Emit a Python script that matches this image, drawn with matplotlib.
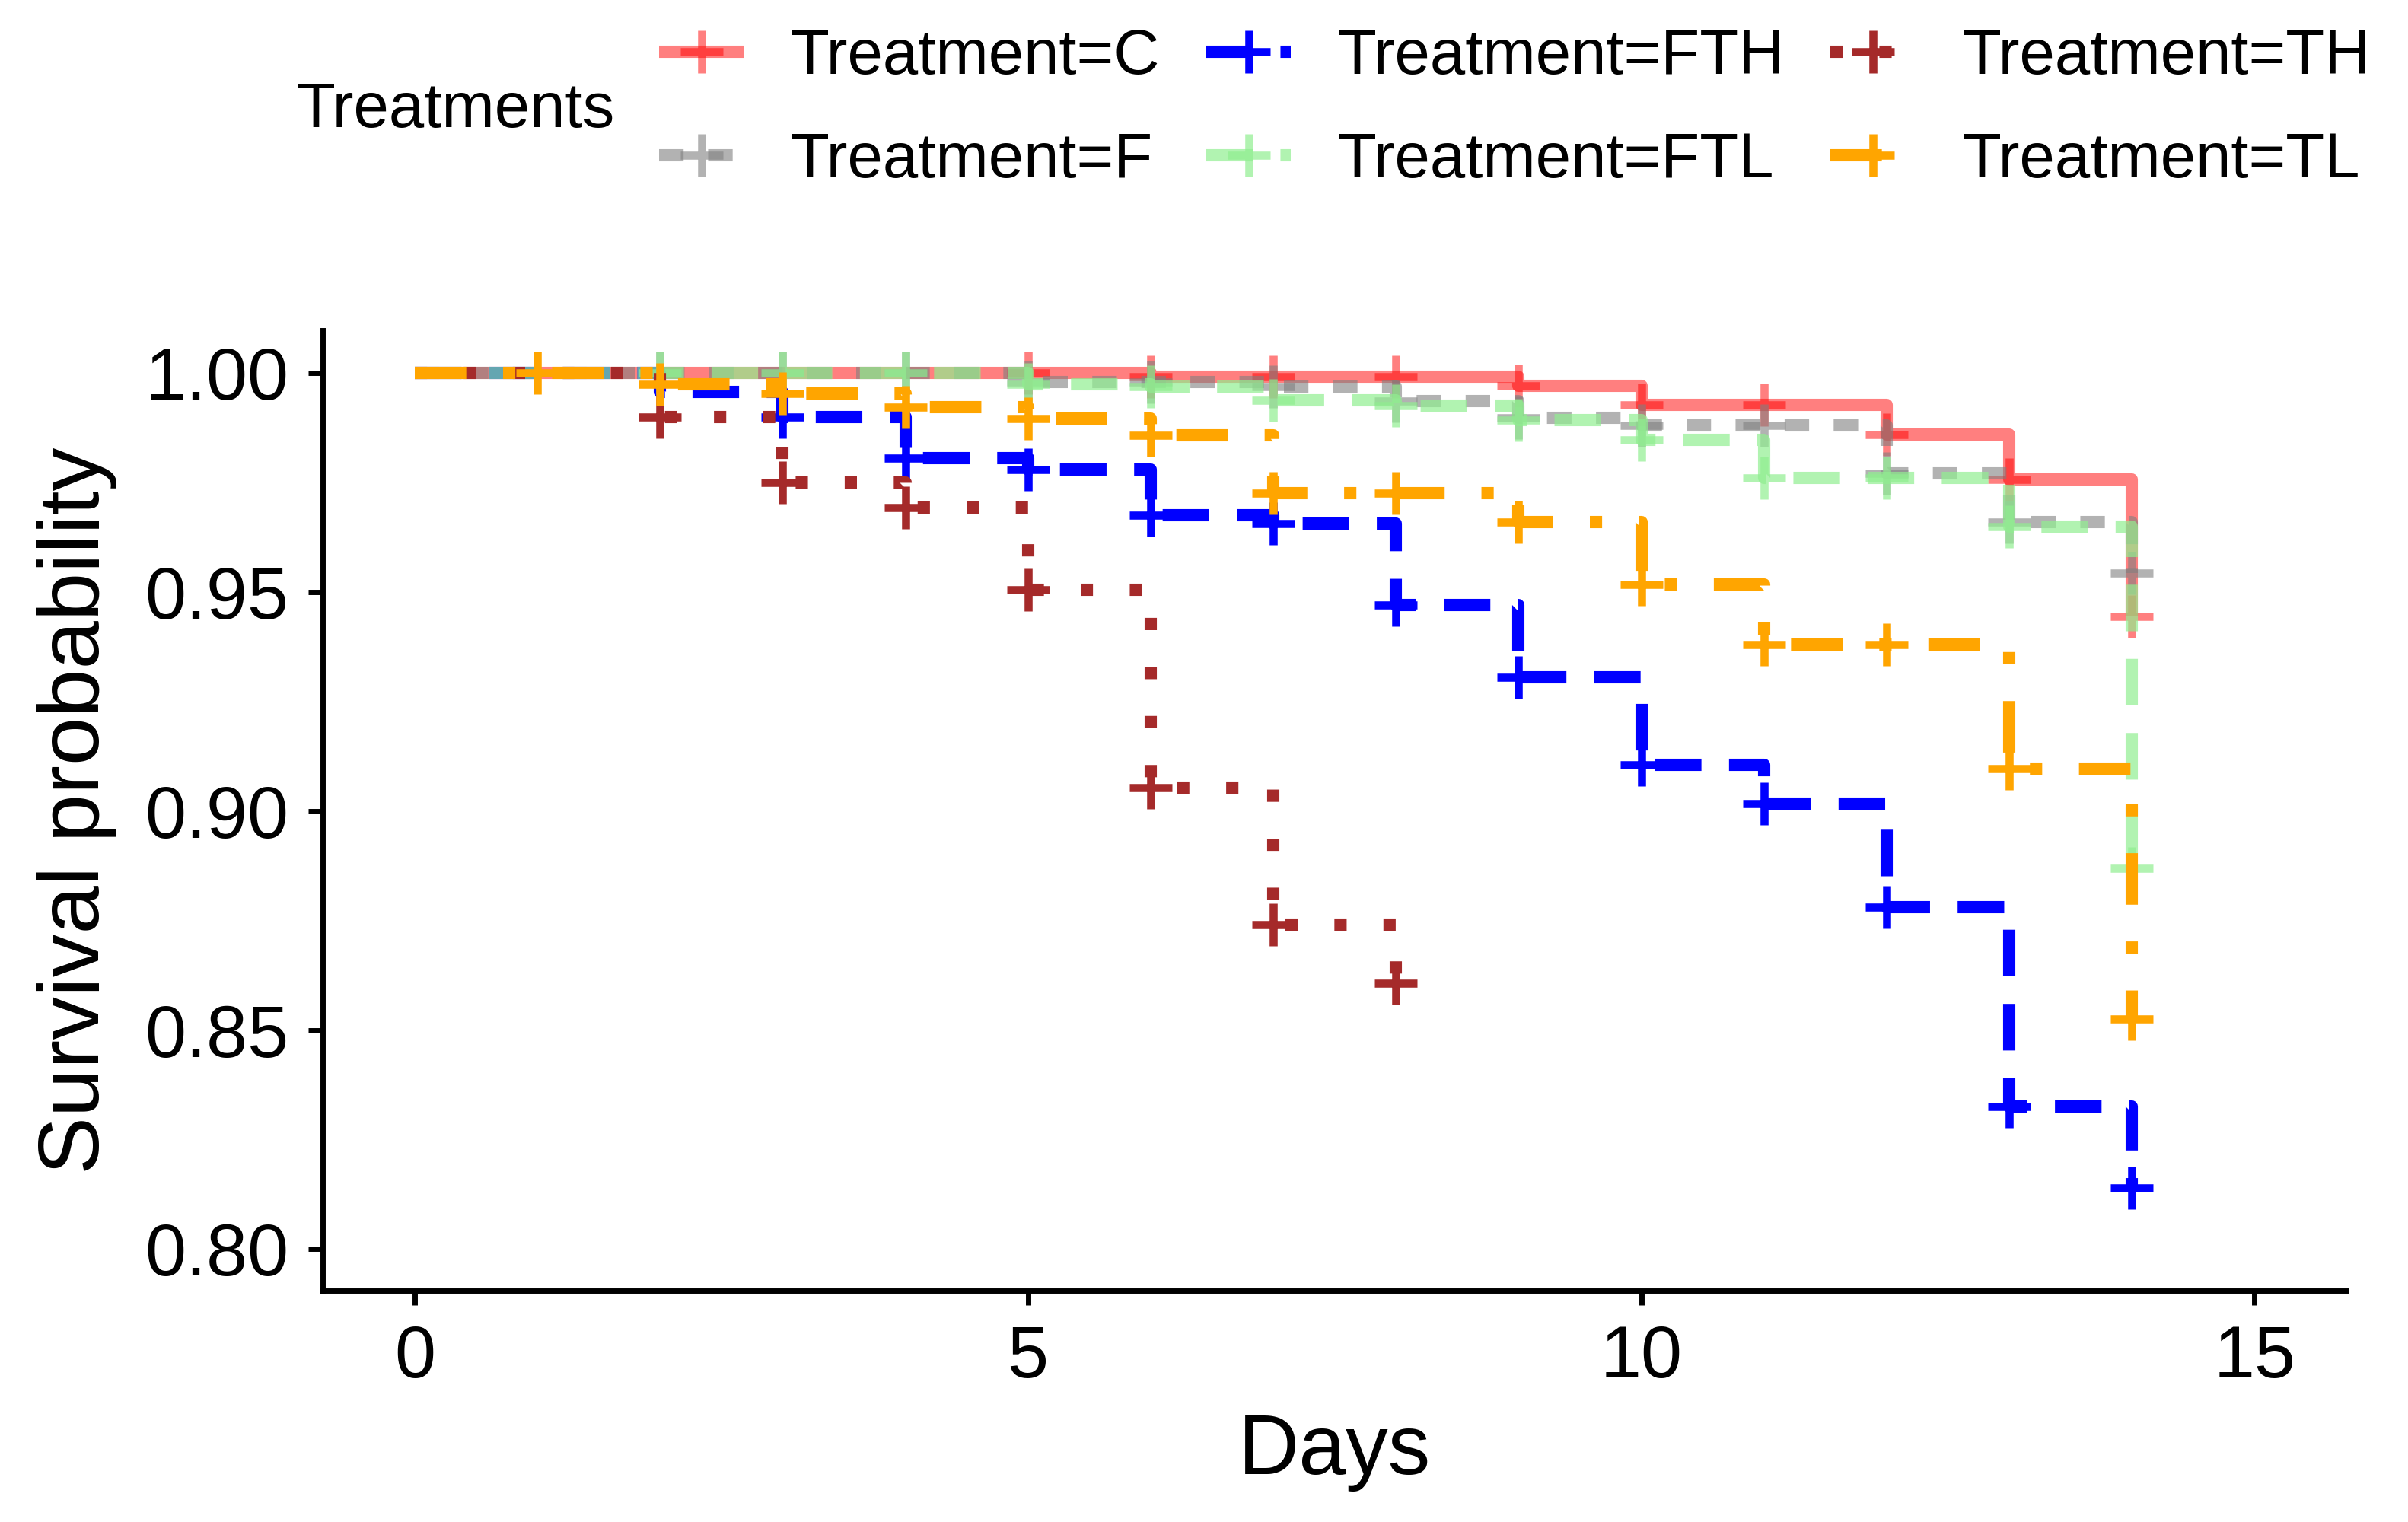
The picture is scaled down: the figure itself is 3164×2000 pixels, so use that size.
import numpy as np
import matplotlib.pyplot as plt
from matplotlib.lines import Line2D

plt.rcParams['font.family'] = ['Liberation Sans', 'DejaVu Sans']

# survival (value after the drop on that day)
days = list(range(15))
surv_c = [1.0, 1.0, 1.0, 1.0, 1.0, 1.0, 0.9992, 0.9992, 0.9992, 0.9972, 0.9928, 0.9928, 0.986, 0.9757, 0.9444]
surv_f = [1.0, 1.0, 1.0, 1.0, 1.0, 0.998, 0.998, 0.997, 0.9937, 0.9898, 0.988, 0.988, 0.9772, 0.966, 0.9544]
surv_fth = [1.0, 1.0, 0.9958, 0.990, 0.9806, 0.978, 0.9675, 0.9656, 0.947, 0.9305, 0.9105, 0.9017, 0.878, 0.8326, 0.814]
surv_ftl = [1.0, 1.0, 1.0, 1.0, 1.0, 0.9975, 0.997, 0.9938, 0.9926, 0.9893, 0.9848, 0.9761, 0.9761, 0.965, 0.887]
days_th = list(range(9))
surv_th = [1.0, 1.0, 0.990, 0.975, 0.9693, 0.9505, 0.9053, 0.874, 0.8607]
surv_tl = [1.0, 1.0, 0.9975, 0.9954, 0.9923, 0.9897, 0.9859, 0.9726, 0.9726, 0.966, 0.9517, 0.938, 0.938, 0.9097, 0.8526]

# days with censoring marks
cens_c = list(range(5, 15))
cens_f = list(range(2, 15))
cens_fth = list(range(3, 15))
cens_ftl = list(range(2, 15))
cens_th = list(range(2, 9))
cens_tl = list(range(1, 15))

labels = ["Treatment=C", "Treatment=F", "Treatment=FTH", "Treatment=FTL", "Treatment=TH", "Treatment=TL"]

lw = 5.8
styles = [
    dict(color='#FF0000', alpha=0.5, ls='-'),
    dict(color='#808080', alpha=0.6, dashes=(2, 2)),
    dict(color='#0000FF', alpha=1.0, dashes=(3.8, 2.25)),
    dict(color='#90EE90', alpha=0.7, dashes=(3.8, 2.25)),
    dict(color='#A52A2A', alpha=1.0, dashes=(1, 3)),
    dict(color='#FFA500', alpha=1.0, dashes=(4.2, 3, 1, 3)),
]

curves = [(days, surv_c, cens_c), (days, surv_f, cens_f), (days, surv_fth, cens_fth),
          (days, surv_ftl, cens_ftl), (days_th, surv_th, cens_th), (days, surv_tl, cens_tl)]

fig = plt.figure(figsize=(15.82, 10), dpi=200)
ax = fig.add_axes([0.134, 0.152, 0.8405, 0.631])

handles = []
for (x, y, cens), st, lab in zip(curves, styles, labels):
    ax.step(x, y, where='post', lw=lw, solid_capstyle='butt', solid_joinstyle='round', **st)
    lookup = dict(zip(x, y))
    ax.plot(cens, [lookup[d] for d in cens], ls='none', marker='+', ms=20, mew=3.8,
            color=st['color'], alpha=st['alpha'])
    handles.append(Line2D([], [], lw=lw, marker='+', ms=20, mew=3.8, label=lab,
                          solid_capstyle='butt', **st))

ax.set_xlim(-0.75, 15.75)
ax.set_ylim(0.7905, 1.0098)
ax.set_xticks([0, 5, 10, 15])
ax.set_yticks([0.80, 0.85, 0.90, 0.95, 1.00])
ax.set_yticklabels(["0.80", "0.85", "0.90", "0.95", "1.00"])
for s in ['top', 'right']:
    ax.spines[s].set_visible(False)
for s in ['left', 'bottom']:
    ax.spines[s].set_linewidth(2.5)
ax.tick_params(width=2.5, length=7, labelsize=35, pad=9, colors='black')

ax.set_xlabel("Days", fontsize=40)
ax.set_ylabel("Survival probability", fontsize=41)
ax.xaxis.set_label_coords(0.5, -0.168)
ax.xaxis.label.set_va('center')
ax.yaxis.set_label_coords(-0.1214, 0.5)
ax.yaxis.label.set_va('center')

fig.text(0.123, 0.9275, "Treatments", fontsize=30, ha='left', va='center')
fig.legend(handles=handles, ncol=3, loc='center left', bbox_to_anchor=(0.2737, 0.9285),
           frameon=False, fontsize=30, handlelength=1.34, handletextpad=0.73,
           columnspacing=0.73, labelspacing=0.7, borderpad=0, borderaxespad=0)

fig.savefig("out.png", dpi=200)
